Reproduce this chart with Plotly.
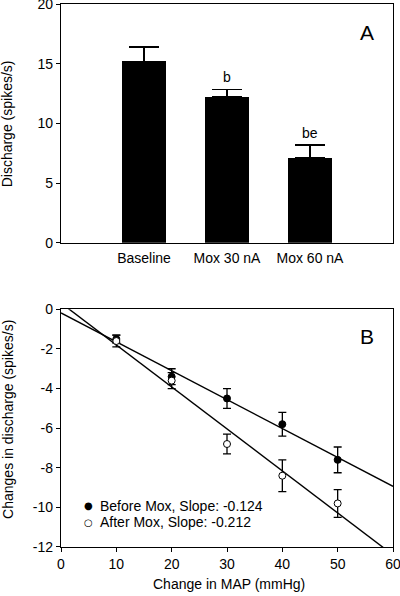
import numpy as np
import plotly.graph_objects as go

# Panel A data
categories = ["Baseline", "Mox 30 nA", "Mox 60 nA"]
discharge = [15.2, 12.2, 7.08]
discharge_err = [1.2, 0.65, 1.1]
sig_labels = ["", "b", "be"]

# Panel B data
map_change = [10, 20, 30, 40, 50]
before_mean = [-1.5, -3.4, -4.5, -5.8, -7.6]
before_err = [0.2, 0.4, 0.5, 0.6, 0.65]
after_mean = [-1.6, -3.6, -6.8, -8.4, -9.8]
after_err = [0.3, 0.4, 0.5, 0.8, 0.7]
legend_labels = ["Before Mox, Slope: -0.124", "After Mox, Slope: -0.212"]

yA_ticks = [0, 5, 10, 15, 20]
xB_ticks = [0, 10, 20, 30, 40, 50, 60]
yB_ticks = [0, -2, -4, -6, -8, -10, -12]
yB_ticktext = ["0", "-2", "-4", "-6", "-8", "-10", "-12"]

FONT = "Liberation Sans, Arial, sans-serif"
fig = go.Figure()

# Panel A bars
fig.add_trace(go.Bar(
    x=list(range(len(categories))), y=discharge, width=0.52,
    marker=dict(color="black", line=dict(width=0)),
    error_y=dict(type="data", symmetric=False, array=discharge_err,
                 arrayminus=[0] * len(discharge), color="black",
                 thickness=1.5, width=15),
    xaxis="x", yaxis="y", showlegend=False))

for i, lab in enumerate(sig_labels):
    if lab:
        fig.add_annotation(x=i, y=discharge[i] + discharge_err[i], xref="x", yref="y",
                           text=lab, showarrow=False, xanchor="center", yanchor="bottom",
                           yshift=2, font=dict(size=14, color="black", family=FONT))

# Panel B regression lines
xl = np.array([0, 60])
for ys in (before_mean, after_mean):
    k, b = np.polyfit(map_change, ys, 1)
    fig.add_trace(go.Scatter(x=xl, y=k * xl + b, mode="lines",
                             line=dict(color="black", width=1.4),
                             xaxis="x2", yaxis="y2", showlegend=False,
                             hoverinfo="skip"))

fig.add_trace(go.Scatter(
    x=map_change, y=before_mean, mode="markers",
    marker=dict(symbol="circle", size=7, color="black", line=dict(color="black", width=1)),
    error_y=dict(type="data", array=before_err, color="black", thickness=1.3, width=4),
    xaxis="x2", yaxis="y2", name=legend_labels[0], showlegend=False))
fig.add_trace(go.Scatter(
    x=map_change, y=after_mean, mode="markers",
    marker=dict(symbol="circle", size=7, color="white", line=dict(color="black", width=1)),
    error_y=dict(type="data", array=after_err, color="black", thickness=1.3, width=4),
    xaxis="x2", yaxis="y2", name=legend_labels[1], showlegend=False))

# legend as text annotations
for j, (sym, lab) in enumerate(zip(["●", "○"], legend_labels)):
    yy = -9.93 - j * 0.82
    fig.add_annotation(x=4.9, y=yy, xref="x2", yref="y2", text=sym, showarrow=False,
                       xanchor="center", yanchor="middle",
                       font=dict(size=10, color="black", family="DejaVu Sans"))
    fig.add_annotation(x=6.7, y=yy, xref="x2", yref="y2", text=lab, showarrow=False,
                       xanchor="left", yanchor="middle",
                       font=dict(size=14, color="black", family=FONT))

# panel letters
for letter, py in (("A", 0.948), ("B", 0.387)):
    fig.add_annotation(x=0.923, y=py, xref="paper", yref="paper", text=letter,
                       showarrow=False, xanchor="center", yanchor="middle",
                       font=dict(size=21, color="black", family=FONT))

# axis titles
title_font = dict(size=14, color="black", family=FONT)
fig.add_annotation(x=-0.16, y=0.78, xref="paper", yref="paper", text="Discharge (spikes/s)",
                   textangle=-90, showarrow=False, xanchor="center", yanchor="middle",
                   font=title_font)
fig.add_annotation(x=-0.16, y=0.2357, xref="paper", yref="paper",
                   text="Changes in discharge (spikes/s)", textangle=-90, showarrow=False,
                   xanchor="center", yanchor="middle", font=title_font)
fig.add_annotation(x=0.505, y=-0.068, xref="paper", yref="paper", text="Change in MAP (mmHg)",
                   showarrow=False, xanchor="center", yanchor="middle", font=title_font)

axis_common = dict(showline=True, linecolor="black", linewidth=1.4, mirror=True,
                   showgrid=False, zeroline=False, ticks="outside", ticklen=4,
                   tickcolor="black", tickwidth=1.3, automargin=False,
                   ticklabeloverflow="allow",
                   tickfont=dict(size=14, color="black", family=FONT))

fig.update_layout(
    width=400, height=596,
    margin=dict(l=61, r=7, t=4, b=49),
    paper_bgcolor="white", plot_bgcolor="white",
    font=dict(family=FONT, size=14, color="black"),
    bargap=0,
    xaxis=dict(axis_common, domain=[0, 1], range=[-1, 3], anchor="y",
               tickvals=list(range(len(categories))), ticktext=categories,
               ticks="", ticklabelstandoff=2),
    yaxis=dict(axis_common, domain=[0.5604, 1], range=[0, 20], anchor="x",
               tickvals=yA_ticks),
    xaxis2=dict(axis_common, domain=[0, 1], range=[0, 60], anchor="y2",
                tickvals=xB_ticks),
    yaxis2=dict(axis_common, domain=[0, 0.4377], range=[-12, 0], anchor="x2",
                tickvals=yB_ticks, ticktext=yB_ticktext),
)

fig.write_html("out.html", config={"displayModeBar": False},
               post_script="document.body.style.margin='0';document.body.style.padding='0';")
